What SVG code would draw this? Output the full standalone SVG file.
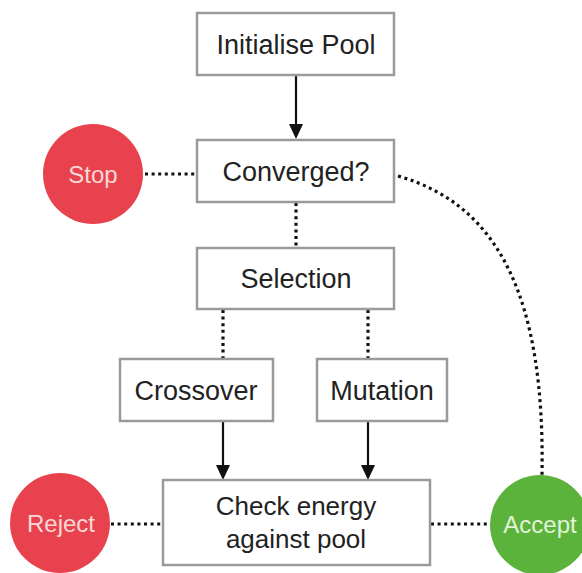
<svg xmlns="http://www.w3.org/2000/svg" width="582" height="573" viewBox="0 0 582 573">
<style>
.box{fill:#fff;stroke:#9a9a9a;stroke-width:2.5}
.t{font-family:"Liberation Sans",Arial,sans-serif;font-size:27px;fill:#222;text-anchor:middle}
.ct{font-family:"Liberation Sans",Arial,sans-serif;font-size:24px;fill:#f9d8d8;text-anchor:middle}
.red{fill:#e8424e}
.green{fill:#5cb33c}
.dot{fill:none;stroke:#111;stroke-width:3.2;stroke-dasharray:3 3.6}
.ln{stroke:#111;stroke-width:2.2}
.ah{fill:#111}
</style>
<rect width="582" height="573" fill="#fff"/>
<g id="connectors">
<line class="ln" x1="296" y1="75" x2="296" y2="125"/>
<path class="ah" d="M289,124 L303,124 L296,139 z"/>
<line class="dot" x1="145" y1="174" x2="197" y2="174"/>
<line class="dot" x1="296" y1="203" x2="296" y2="247"/>
<line class="dot" x1="223" y1="310" x2="223" y2="358"/>
<line class="dot" x1="368" y1="310" x2="368" y2="358"/>
<line class="ln" x1="223" y1="421" x2="223" y2="466"/>
<path class="ah" d="M216,465 L230,465 L223,480 z"/>
<line class="ln" x1="368" y1="421" x2="368" y2="466"/>
<path class="ah" d="M361,465 L375,465 L368,480 z"/>
<line class="dot" x1="111" y1="524" x2="162" y2="524"/>
<line class="dot" x1="431" y1="524" x2="489" y2="524"/>
<path class="dot" d="M398,176 C500,205 545,300 542,475"/>
</g>
<g id="init"><rect class="box" x="197" y="13" width="197" height="62"/><text class="t" x="296" y="54">Initialise Pool</text></g>
<g id="converged"><rect class="box" x="197" y="140" width="197" height="62"/><text class="t" x="296" y="181">Converged?</text></g>
<g id="selection"><rect class="box" x="197" y="248" width="197" height="61"/><text class="t" x="296" y="288">Selection</text></g>
<g id="crossover"><rect class="box" x="120" y="359" width="153" height="62"/><text class="t" x="196" y="400">Crossover</text></g>
<g id="mutation"><rect class="box" x="317" y="359" width="130" height="62"/><text class="t" x="382" y="400">Mutation</text></g>
<g id="check"><rect class="box" x="163" y="480" width="267" height="85"/><text class="t" x="296" y="515" style="font-size:26px">Check energy</text><text class="t" x="296" y="548" style="font-size:26px">against pool</text></g>
<g id="stop"><circle class="red" cx="93" cy="174" r="50"/><text class="ct" x="93" y="183">Stop</text></g>
<g id="reject"><circle class="red" cx="60" cy="523" r="50"/><text class="ct" x="61" y="532">Reject</text></g>
<g id="accept"><circle class="green" cx="540" cy="525" r="50"/><text class="ct" x="540" y="533" style="fill:#e3f3d8">Accept</text></g>
</svg>
